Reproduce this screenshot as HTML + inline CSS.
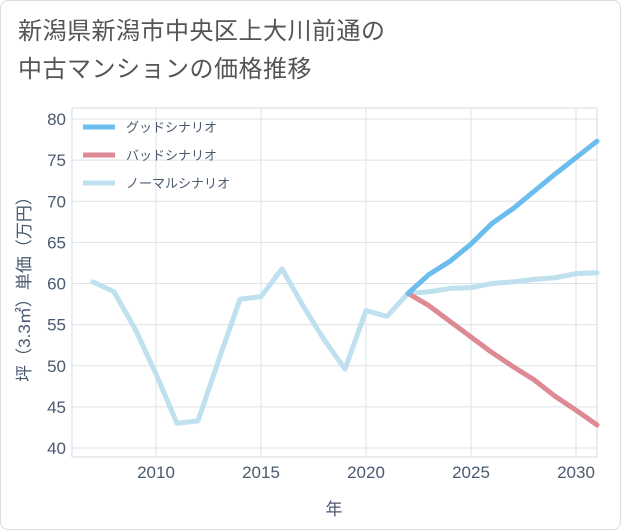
<!DOCTYPE html>
<html><head><meta charset="utf-8"><style>
body{margin:0;background:#fff;font-family:"Liberation Sans","Noto Sans CJK JP",sans-serif;}
#card{position:absolute;left:0;top:0;width:619px;height:528px;border:1px solid #ddd;border-radius:8px;background:#fff;}
#title{position:absolute;left:18px;top:13px;font-size:24px;letter-spacing:0.5px;line-height:38px;color:#555;}
svg{position:absolute;left:0;top:0;}
</style></head><body>
<div id="card"></div>
<div id="title">新潟県新潟市中央区上大川前通の<br>中古マンションの価格推移</div>
<svg id="chart" width="621" height="530"></svg>
<script>
const years=[2007,2008,2009,2010,2011,2012,2013,2014,2015,2016,2017,2018,2019,2020,2021,2022,2023,2024,2025,2026,2027,2028,2029,2030,2031];
const normal=[60.2,59,54.5,49,43,43.3,50.8,58.1,58.4,61.8,57.3,53.2,49.6,56.7,56,58.8,59,59.4,59.5,60,60.2,60.5,60.7,61.2,61.3];
const fYears=[2022,2023,2024,2025,2026,2027,2028,2029,2030,2031];
const good=[58.8,61.1,62.7,64.8,67.3,69.1,71.2,73.3,75.3,77.3];
const bad=[58.8,57.3,55.4,53.5,51.6,49.9,48.3,46.3,44.6,42.8];
const yTicks=[40,45,50,55,60,65,70,75,80];
const xTicks=[2010,2015,2020,2025,2030];
const NS='http://www.w3.org/2000/svg';
const svg=document.getElementById('chart');
const L=72,R=597,T=108,B=457;
const x=v=>156+(v-2010)*21;
const y=v=>448-(v-40)*(329/40);
function mk(tag,attrs){const e=document.createElementNS(NS,tag);for(const k in attrs)e.setAttribute(k,attrs[k]);svg.appendChild(e);return e;}
const bg=mk('rect',{x:L,y:T,width:R-L,height:B-T,fill:'#fff',stroke:'#d5dbe2'});


yTicks.forEach(t=>{
  const g=mk('line',{x1:L,x2:R,y1:y(t),y2:y(t),stroke:'#dde3ea'});
  
  
  const tx=mk('text',{x:66,y:y(t)+6,'text-anchor':'end','font-size':17,fill:'#4a5a70'});
  tx.textContent=t;
  
  
});
xTicks.forEach(t=>{
  const g=mk('line',{x1:x(t),x2:x(t),y1:T,y2:B,stroke:'#dde3ea'});
  
  
  const tx=mk('text',{x:x(t),y:478,'text-anchor':'middle','font-size':17,fill:'#4a5a70'});
  tx.textContent=t;
  
  
});
const xt=mk('text',{x:334,y:515,'text-anchor':'middle','font-size':17,fill:'#4a5a70'});
xt.textContent='年';


const yt=mk('text',{x:0,y:0,'text-anchor':'middle','font-size':17,fill:'#4a5a70',transform:'translate(30,285) rotate(-90)'});
yt.textContent='坪（3.3㎡）単価（万円）';


function line(xs,vs,color,name){
  const p=mk('polyline',{points:xs.map((v,i)=>x(v)+','+y(vs[i])).join(' '),fill:'none',stroke:color,'stroke-width':5,'stroke-linejoin':'round','stroke-linecap':'round'});
  
  
}
line(years,normal,'#bfe0ef','normal-scenario-line');
line(fYears,bad,'#dd8a94','bad-scenario-line');
line(fYears,good,'#6bbdee','good-scenario-line');
[['グッドシナリオ','#6bbdee',127],['バッドシナリオ','#dd8a94',155],['ノーマルシナリオ','#bfe0ef',183]].forEach(l=>{
  const s=mk('line',{x1:83,x2:115,y1:l[2],y2:l[2],stroke:l[1],'stroke-width':5});
  
  
  const t=mk('text',{x:126,y:l[2]+5,'font-size':13,fill:'#4a5a70'});
  t.textContent=l[0];
  
  
});
</script>
</body></html>
